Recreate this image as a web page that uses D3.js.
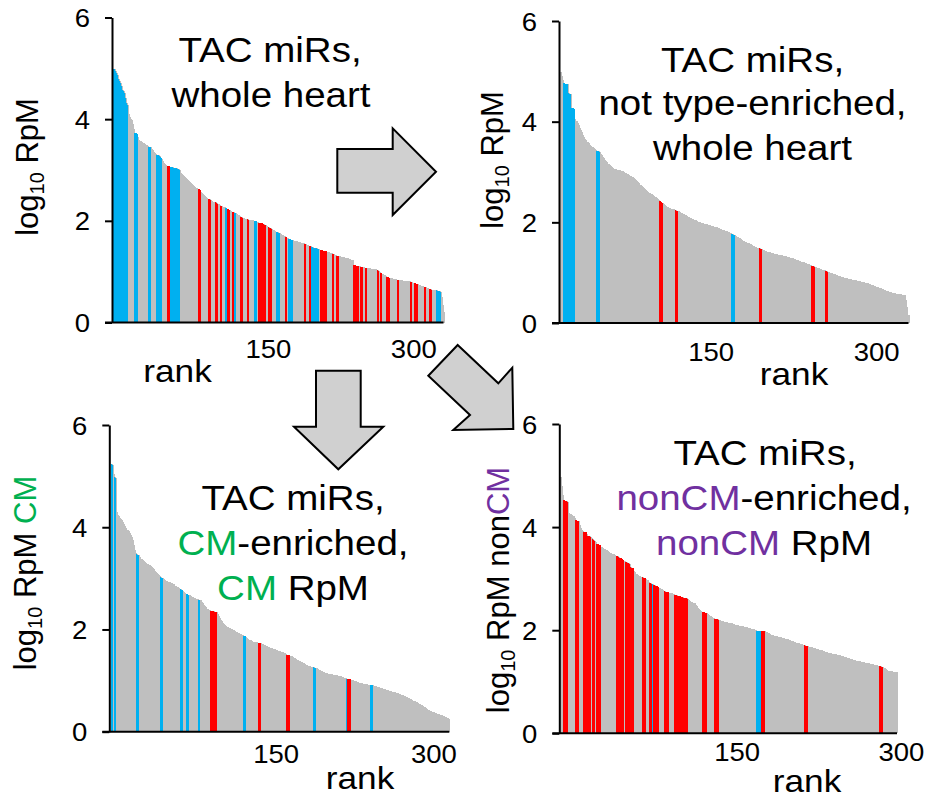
<!DOCTYPE html>
<html><head><meta charset="utf-8">
<script src="https://cdn.jsdelivr.net/npm/d3@7"></script>
<style>
html,body{margin:0;padding:0;background:#fff;}
svg{display:block;font-family:"Liberation Sans",Arial,sans-serif;}
text{white-space:pre;}
</style></head><body>
<svg id="chart" width="927" height="799"></svg>
<script>
// ---------- data ----------
const RANK_TICKS = [150, 300];
const LOG_TICKS = [0, 2, 4, 6];

// Panel 1: TAC miRs, whole heart (log10 RpM by rank)
const P1_VALUES = [
4.99,4.99,4.95,4.90,4.87,4.80,4.76,4.71,4.65,4.58,
4.55,4.51,4.42,4.32,4.28,4.10,4.07,4.04,4.01,3.99,
3.90,3.80,3.73,3.72,3.70,3.64,3.60,3.58,3.57,3.56,
3.54,3.53,3.52,3.50,3.49,3.47,3.46,3.45,3.45,3.42,
3.39,3.36,3.34,3.32,3.30,3.30,3.29,3.28,3.26,3.24,
3.22,3.17,3.14,3.12,3.10,3.08,3.07,3.07,3.06,3.05,
3.05,3.05,3.04,3.04,3.04,3.03,3.02,3.01,3.00,2.94,
2.92,2.90,2.88,2.86,2.84,2.82,2.80,2.78,2.76,2.74,
2.72,2.71,2.70,2.69,2.67,2.65,2.64,2.63,2.62,2.61,
2.57,2.55,2.52,2.50,2.48,2.46,2.44,2.43,2.42,2.42,
2.41,2.39,2.38,2.38,2.37,2.37,2.36,2.34,2.33,2.31,
2.29,2.29,2.28,2.28,2.28,2.27,2.25,2.24,2.23,2.22,
2.21,2.19,2.18,2.18,2.18,2.16,2.15,2.14,2.12,2.11,
2.10,2.08,2.07,2.06,2.05,2.04,2.04,2.03,2.03,2.02,
2.02,2.01,2.01,2.01,2.00,2.00,2.00,1.99,1.98,1.97,
1.96,1.96,1.95,1.95,1.94,1.93,1.92,1.91,1.89,1.88,
1.87,1.86,1.86,1.84,1.82,1.81,1.80,1.79,1.78,1.78,
1.77,1.76,1.74,1.73,1.72,1.71,1.70,1.69,1.68,1.67,
1.66,1.65,1.64,1.63,1.63,1.62,1.61,1.61,1.60,1.60,
1.59,1.58,1.58,1.57,1.57,1.56,1.56,1.55,1.54,1.53,
1.52,1.51,1.50,1.50,1.49,1.48,1.47,1.47,1.46,1.46,
1.45,1.44,1.44,1.43,1.42,1.42,1.41,1.41,1.40,1.40,
1.39,1.38,1.38,1.37,1.36,1.36,1.35,1.34,1.33,1.32,
1.31,1.31,1.30,1.30,1.29,1.29,1.28,1.28,1.27,1.27,
1.26,1.26,1.25,1.24,1.24,1.23,1.23,1.22,1.13,1.13,
1.12,1.12,1.12,1.11,1.11,1.10,1.10,1.09,1.09,1.08,
1.08,1.08,1.07,1.07,1.07,1.06,1.06,1.06,1.05,1.05,
1.05,1.04,1.03,1.02,1.00,0.98,0.97,0.96,0.95,0.94,
0.93,0.92,0.90,0.89,0.88,0.88,0.87,0.87,0.86,0.86,
0.85,0.85,0.84,0.84,0.83,0.83,0.83,0.83,0.82,0.82,
0.82,0.82,0.81,0.81,0.81,0.81,0.80,0.80,0.79,0.78,
0.78,0.77,0.76,0.75,0.75,0.74,0.73,0.72,0.72,0.71,
0.70,0.69,0.69,0.68,0.67,0.66,0.66,0.65,0.64,0.64,
0.64,0.63,0.63,0.63,0.62,0.62,0.62,0.60,0.50,0.35,
0.20];
const P1_BLUE = [[0,14],[22,24],[36,38],[44,49],[59,68],[116,117],[125,126],[145,147],[168,171],[181,184],[204,211],[333,337]];
const P1_RED = [[56,58],[88,89],[98,100],[105,107],[110,111],[118,119],[123,124],[131,133],[138,139],[150,157],[160,163],[177,178],[197,198],[202,203],[214,220],[226,227],[230,232],[248,252],[255,257],[260,261],[272,273],[275,276],[282,285],[293,294],[306,307],[311,313],[321,322],[326,328]];

// Panel 2: TAC miRs, not type-enriched, whole heart
const P2_VALUES = [
4.99,4.90,4.82,4.76,4.75,4.75,4.74,4.56,4.55,4.54,
4.28,4.27,4.26,4.05,4.02,3.98,3.93,3.88,3.83,3.79,
3.74,3.69,3.66,3.63,3.60,3.57,3.54,3.51,3.50,3.49,
3.47,3.45,3.44,3.42,3.41,3.40,3.36,3.33,3.30,3.27,
3.24,3.21,3.19,3.16,3.14,3.11,3.09,3.07,3.06,3.05,
3.05,3.04,3.04,3.03,3.02,3.02,3.01,3.00,2.99,2.98,
2.97,2.96,2.94,2.93,2.91,2.90,2.88,2.86,2.84,2.82,
2.80,2.78,2.75,2.73,2.71,2.69,2.67,2.65,2.63,2.61,
2.59,2.58,2.56,2.54,2.53,2.51,2.50,2.48,2.46,2.45,
2.42,2.41,2.39,2.37,2.35,2.33,2.31,2.30,2.29,2.28,
2.27,2.27,2.26,2.25,2.24,2.23,2.23,2.22,2.20,2.19,
2.18,2.17,2.15,2.14,2.13,2.11,2.10,2.09,2.08,2.07,
2.06,2.05,2.04,2.02,2.01,2.01,2.00,1.99,1.99,1.98,
1.97,1.97,1.96,1.95,1.95,1.94,1.93,1.93,1.92,1.91,
1.91,1.90,1.89,1.88,1.87,1.86,1.85,1.84,1.84,1.83,
1.82,1.81,1.80,1.79,1.78,1.77,1.76,1.75,1.74,1.72,
1.71,1.69,1.68,1.66,1.65,1.63,1.62,1.61,1.60,1.59,
1.58,1.57,1.56,1.54,1.53,1.52,1.51,1.51,1.50,1.50,
1.49,1.48,1.47,1.46,1.45,1.44,1.43,1.42,1.42,1.41,
1.40,1.40,1.39,1.38,1.38,1.37,1.37,1.36,1.36,1.35,
1.35,1.34,1.34,1.33,1.33,1.32,1.32,1.31,1.30,1.30,
1.29,1.28,1.27,1.26,1.25,1.25,1.24,1.23,1.22,1.21,
1.21,1.20,1.19,1.18,1.17,1.17,1.16,1.15,1.14,1.13,
1.12,1.11,1.10,1.10,1.09,1.08,1.07,1.06,1.05,1.05,
1.04,1.03,1.02,1.01,1.00,0.99,0.99,0.98,0.97,0.96,
0.95,0.94,0.93,0.93,0.92,0.92,0.91,0.90,0.90,0.89,
0.88,0.88,0.87,0.87,0.86,0.86,0.85,0.85,0.84,0.84,
0.83,0.83,0.82,0.82,0.81,0.81,0.80,0.80,0.79,0.78,
0.77,0.76,0.76,0.75,0.74,0.73,0.72,0.71,0.70,0.70,
0.69,0.68,0.67,0.66,0.65,0.64,0.63,0.62,0.62,0.61,
0.60,0.60,0.59,0.59,0.58,0.58,0.57,0.57,0.57,0.56,
0.56,0.56,0.55,0.45,0.32,0.15];
const P2_BLUE = [[3,12],[33,35],[155,157]];
const P2_RED = [[90,92],[104,106],[180,182],[228,230],[240,242]];

// Panel 3: TAC miRs, CM-enriched, CM RpM
const P3_VALUES = [
5.24,5.22,5.05,4.98,4.97,4.30,4.24,4.22,4.19,4.17,
4.14,4.11,4.07,4.03,3.99,3.95,3.92,3.88,3.84,3.80,
3.75,3.65,3.56,3.50,3.47,3.46,3.45,3.41,3.38,3.37,
3.35,3.34,3.32,3.30,3.28,3.27,3.26,3.24,3.22,3.20,
3.18,3.15,3.13,3.11,3.08,3.06,3.04,3.02,3.01,3.00,
2.98,2.96,2.95,2.94,2.93,2.92,2.91,2.90,2.89,2.88,
2.86,2.85,2.84,2.83,2.81,2.80,2.79,2.78,2.76,2.74,
2.72,2.70,2.69,2.68,2.67,2.66,2.64,2.63,2.62,2.61,
2.60,2.60,2.59,2.58,2.58,2.57,2.54,2.51,2.48,2.45,
2.43,2.41,2.40,2.39,2.37,2.37,2.36,2.36,2.35,2.35,
2.34,2.30,2.26,2.22,2.19,2.16,2.13,2.11,2.09,2.07,
2.05,2.04,2.02,2.01,2.00,1.99,1.98,1.97,1.96,1.95,
1.94,1.93,1.92,1.91,1.90,1.89,1.88,1.87,1.86,1.84,
1.82,1.80,1.79,1.78,1.76,1.76,1.75,1.75,1.75,1.74,
1.74,1.74,1.73,1.72,1.71,1.70,1.69,1.68,1.67,1.66,
1.65,1.64,1.63,1.62,1.62,1.61,1.60,1.59,1.58,1.57,
1.57,1.56,1.55,1.55,1.54,1.53,1.52,1.51,1.51,1.50,
1.49,1.48,1.46,1.45,1.44,1.43,1.41,1.40,1.39,1.38,
1.37,1.36,1.35,1.34,1.33,1.31,1.30,1.29,1.29,1.28,
1.27,1.27,1.26,1.25,1.25,1.24,1.22,1.21,1.20,1.19,
1.18,1.17,1.16,1.15,1.14,1.14,1.13,1.13,1.12,1.12,
1.11,1.11,1.11,1.10,1.10,1.09,1.09,1.08,1.08,1.07,
1.07,1.06,1.06,1.05,1.04,1.04,1.03,1.03,1.02,1.01,
1.00,0.99,0.99,0.98,0.97,0.96,0.96,0.95,0.95,0.94,
0.94,0.93,0.93,0.93,0.92,0.92,0.92,0.91,0.91,0.90,
0.90,0.89,0.88,0.88,0.87,0.86,0.86,0.85,0.84,0.83,
0.83,0.82,0.82,0.81,0.80,0.80,0.79,0.78,0.78,0.77,
0.76,0.76,0.75,0.74,0.73,0.72,0.72,0.71,0.70,0.69,
0.68,0.67,0.66,0.65,0.64,0.63,0.62,0.61,0.60,0.59,
0.58,0.56,0.55,0.54,0.53,0.52,0.51,0.49,0.48,0.46,
0.45,0.43,0.42,0.41,0.40,0.39,0.38,0.37,0.36,0.35,
0.35,0.34,0.33,0.33,0.32,0.31,0.30,0.29,0.28,0.27,
0.26,0.24];
const P3_BLUE = [[0,1],[3,4],[24,26],[47,48],[66,67],[72,73],[83,84],[126,127],[192,194],[224,224],[247,248]];
const P3_RED = [[94,100],[140,142],[167,169],[225,227]];

// Panel 4: TAC miRs, nonCM-enriched, nonCM RpM
const P4_VALUES = [
4.98,4.80,4.62,4.52,4.51,4.50,4.48,4.28,4.26,4.25,
4.23,4.22,4.21,4.18,4.13,4.12,4.12,4.05,3.98,3.95,
3.93,3.91,3.90,3.90,3.87,3.83,3.82,3.81,3.79,3.76,
3.75,3.74,3.71,3.68,3.67,3.66,3.65,3.62,3.60,3.58,
3.57,3.56,3.55,3.53,3.52,3.50,3.49,3.48,3.47,3.46,
3.44,3.43,3.43,3.42,3.41,3.40,3.38,3.36,3.34,3.33,
3.32,3.31,3.30,3.28,3.22,3.21,3.20,3.15,3.12,3.09,
3.07,3.06,3.05,3.04,3.04,3.03,3.02,3.02,3.00,2.97,
2.94,2.92,2.91,2.90,2.89,2.88,2.87,2.86,2.85,2.83,
2.81,2.80,2.79,2.78,2.77,2.76,2.75,2.75,2.74,2.73,
2.72,2.72,2.71,2.70,2.69,2.68,2.68,2.67,2.67,2.66,
2.65,2.64,2.63,2.63,2.62,2.62,2.61,2.58,2.56,2.55,
2.54,2.53,2.52,2.49,2.46,2.44,2.42,2.40,2.38,2.36,
2.35,2.35,2.34,2.33,2.31,2.30,2.28,2.27,2.25,2.24,
2.23,2.22,2.21,2.21,2.20,2.19,2.18,2.17,2.17,2.16,
2.16,2.15,2.15,2.14,2.14,2.13,2.13,2.12,2.12,2.11,
2.11,2.10,2.10,2.09,2.09,2.08,2.08,2.07,2.07,2.06,
2.06,2.05,2.05,2.04,2.03,2.03,2.02,2.01,2.00,1.99,
1.99,1.99,1.99,1.99,1.99,1.98,1.98,1.97,1.96,1.95,
1.94,1.93,1.91,1.91,1.90,1.89,1.89,1.88,1.87,1.87,
1.86,1.86,1.85,1.85,1.84,1.83,1.83,1.82,1.81,1.81,
1.80,1.79,1.79,1.78,1.77,1.76,1.76,1.75,1.74,1.73,
1.73,1.72,1.71,1.71,1.70,1.70,1.69,1.68,1.68,1.67,
1.66,1.66,1.65,1.64,1.64,1.63,1.62,1.61,1.61,1.60,
1.59,1.58,1.58,1.57,1.56,1.56,1.55,1.55,1.54,1.54,
1.53,1.53,1.52,1.52,1.51,1.51,1.50,1.50,1.49,1.48,
1.48,1.47,1.47,1.46,1.45,1.45,1.44,1.43,1.42,1.42,
1.41,1.41,1.40,1.40,1.39,1.39,1.38,1.38,1.37,1.37,
1.36,1.36,1.35,1.35,1.34,1.34,1.33,1.33,1.32,1.32,
1.31,1.31,1.30,1.29,1.29,1.27,1.26,1.25,1.23,1.21,
1.20,1.20,1.20,1.19,1.19,1.19,1.19,1.19];
const P4_BLUE = [[84,84],[179,183]];
const P4_RED = [[3,6],[14,16],[21,23],[25,27],[29,31],[33,36],[51,57],[59,66],[75,77],[81,83],[85,89],[95,98],[104,116],[130,133],[141,144],[184,186],[223,225],[292,294]];

// ---------- styles ----------
const C = {gray:"#bfbfbf", blue:"#00b0f0", red:"#ff0000", green:"#00b050", purple:"#7030a0", arrow:"#d0d0d0", ink:"#000000"};
const SX = 1.1;            // horizontal glyph stretch of the original figure
const FONT = '"Liberation Sans", Arial, sans-serif';

// ---------- layout ----------
const panels = [
  {values:P1_VALUES, blue:P1_BLUE, red:P1_RED, axisX:112, barStart:113, barEnd:443.5, y0:322.5, y6:17.5,
   tickShift:9.5, tickBase:35, rankPos:[177.5,381.7], ylabPos:[37.6,167], ylabExtra:[],
   title:[{x:270,y:61.7,parts:[["TAC miRs,",C.ink]]},{x:271,y:106.7,parts:[["whole heart",C.ink]]}]},
  {values:P2_VALUES, blue:P2_BLUE, red:P2_RED, axisX:559, barStart:560, barEnd:908.5, y0:323, y6:21,
   tickShift:-14.8, tickBase:38, rankPos:[794,385], ylabPos:[503.3,160], ylabExtra:[],
   title:[{x:752.5,y:71.7,parts:[["TAC miRs,",C.ink]]},{x:752.5,y:115,parts:[["not type-enriched,",C.ink]]},{x:752.5,y:160,parts:[["whole heart",C.ink]]}]},
  {values:P3_VALUES, blue:P3_BLUE, red:P3_RED, axisX:109.3, barStart:110.7, barEnd:449.3, y0:731.7, y6:425,
   tickShift:7.2, tickBase:31.6, rankPos:[360,789], ylabPos:[36,573], ylabExtra:[[" CM",C.green]],
   title:[{x:293,y:510,parts:[["TAC miRs,",C.ink]]},{x:293,y:555,parts:[["CM",C.green],["-enriched,",C.ink]]},{x:293,y:600,parts:[["CM",C.green],[" RpM",C.ink]]}]},
  {values:P4_VALUES, blue:P4_BLUE, red:P4_RED, axisX:559.3, barStart:560, barEnd:897, y0:733.3, y6:424,
   tickShift:12.6, tickBase:28, rankPos:[807,791.7], ylabPos:[509.3,590], ylabExtra:[[" non",C.ink],["CM",C.purple]],
   title:[{x:765,y:465,parts:[["TAC miRs,",C.ink]]},{x:764,y:510,parts:[["nonCM",C.purple],["-enriched,",C.ink]]},{x:764,y:555,parts:[["nonCM",C.purple],[" RpM",C.ink]]}]}
];

const arrows = [
  [[337.3,149],[392.7,149],[392.7,128.3],[436,171.7],[392.7,215],[392.7,192.7],[337.3,192.7]],
  [[316,370.7],[360.7,370.7],[360.7,426.7],[383.3,426.7],[338.3,469.3],[294,426.7],[316,426.7]],
  [[457.7,345],[498.3,383.3],[512.3,367.7],[513.3,429],[453.3,430],[470,415],[428.3,375.7]]
];

// ---------- drawing ----------
const svg = d3.select("#chart");
svg.append("rect").attr("width",927).attr("height",799).attr("fill","#fff");

function stretchedText(g, x, y, anchor, size, parts) {
  const t = g.append("text")
    .attr("transform", `translate(${x},${y}) scale(${SX},1)`)
    .attr("text-anchor", anchor)
    .style("font-family", FONT).style("font-size", size + "px");
  parts.forEach(([s, fill]) => t.append("tspan").attr("fill", fill).text(s));
  return t;
}

panels.forEach(p => {
  const N = p.values.length;
  const x = d3.scaleLinear().domain([0, N]).range([p.barStart, p.barEnd]);
  const y = d3.scaleLinear().domain([0, 6]).range([p.y0, p.y6]);
  const colorOf = new Array(N).fill(C.gray);
  p.blue.forEach(([a, b]) => { for (let i = a; i <= b; i++) colorOf[i] = C.blue; });
  p.red.forEach(([a, b]) => { for (let i = a; i <= b; i++) colorOf[i] = C.red; });
  const data = p.values.map((v, i) => ({i, v, c: colorOf[i]}));

  const g = svg.append("g");
  g.append("g").attr("shape-rendering", "crispEdges").selectAll("rect").data(data).join("rect")
    .attr("x", d => x(d.i)).attr("width", d => x(d.i + 1) - x(d.i) + 1)
    .attr("y", d => y(d.v)).attr("height", d => y(0) - y(d.v))
    .attr("fill", C.gray);
  g.append("g").attr("shape-rendering", "crispEdges").selectAll("rect").data(data.filter(d => d.c !== C.gray)).join("rect")
    .attr("x", d => x(d.i)).attr("width", d => x(d.i + 1) - x(d.i) + 0.3)
    .attr("y", d => y(d.v)).attr("height", d => y(0) - y(d.v))
    .attr("fill", d => d.c);

  // y axis
  const ya = g.append("g").attr("transform", `translate(${p.axisX},0)`)
    .call(d3.axisLeft(y).tickValues(LOG_TICKS).tickFormat(d3.format("d")).tickSize(7).tickSizeOuter(0).tickPadding(15));
  ya.attr("font-size", null).attr("font-family", null);
  ya.select(".domain").attr("stroke", C.ink).attr("stroke-width", 2);
  ya.selectAll(".tick line").attr("stroke", C.ink).attr("stroke-width", 2);
  ya.selectAll(".tick text")
    .attr("x", null).attr("dy", "0.36em").attr("fill", C.ink)
    .attr("transform", `translate(-22,0) scale(${SX},1)`)
    .style("font-family", FONT).style("font-size", "25px");

  // x axis labels
  const xa = g.append("g").attr("transform", `translate(0,${p.y0})`)
    .call(d3.axisBottom(x).tickValues(RANK_TICKS).tickFormat(d3.format("d")).tickSize(0).tickSizeOuter(0));
  xa.attr("font-size", null).attr("font-family", null);
  xa.select(".domain").remove();
  xa.selectAll(".tick line").remove();
  xa.selectAll(".tick text")
    .attr("y", null).attr("dy", null).attr("fill", C.ink)
    .attr("transform", `translate(${p.tickShift},${p.tickBase}) scale(${SX},1)`)
    .style("font-family", FONT).style("font-size", "25px");
  // x axis line
  g.append("line").attr("x1", p.axisX - 7).attr("x2", x(N)).attr("y1", y(0)).attr("y2", y(0))
    .attr("stroke", C.ink).attr("stroke-width", 2);

  // rank label
  stretchedText(g, p.rankPos[0], p.rankPos[1], "middle", 32, [["rank", C.ink]]);

  // y label
  const yl = g.append("text")
    .attr("transform", `translate(${p.ylabPos[0]},${p.ylabPos[1]}) rotate(-90)`)
    .attr("text-anchor", "middle").style("font-family", FONT).style("font-size", "31px").attr("fill", C.ink);
  yl.append("tspan").text("log");
  yl.append("tspan").style("font-size", "20px").attr("dy", 6).text("10");
  yl.append("tspan").attr("dy", -6).text(" RpM");
  p.ylabExtra.forEach(([s, fill]) => yl.append("tspan").attr("fill", fill).text(s));

  // title
  p.title.forEach(line => stretchedText(g, line.x, line.y, "middle", 35, line.parts));
});

svg.append("g").selectAll("polygon").data(arrows).join("polygon")
  .attr("points", d => d.map(pt => pt.join(",")).join(" "))
  .attr("fill", C.arrow).attr("stroke", C.ink).attr("stroke-width", 2).attr("stroke-linejoin", "miter");
</script>
</body></html>
